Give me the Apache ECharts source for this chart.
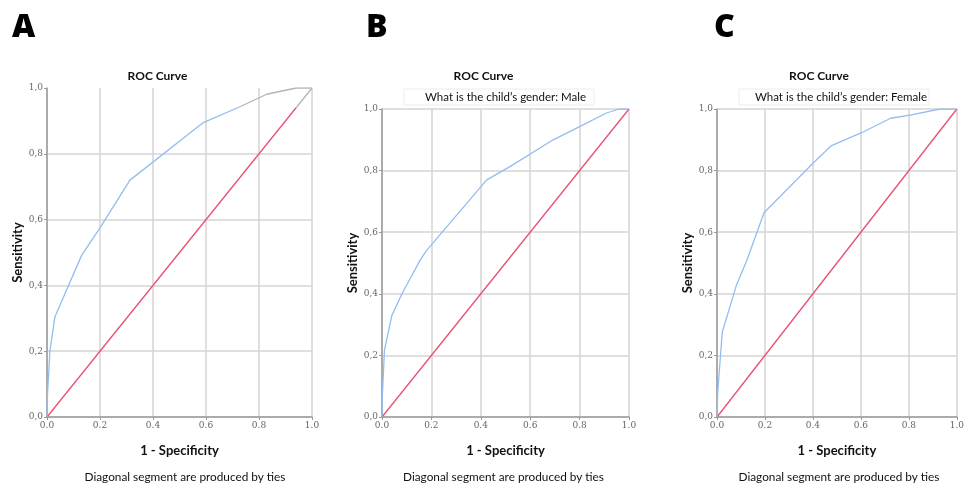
<!DOCTYPE html>
<html>
<head>
<meta charset="utf-8">
<script src="https://cdn.jsdelivr.net/npm/echarts@6/dist/echarts.min.js"></script>
<style>
	html, body { margin: 0; padding: 0; background: #fff; }
	#chart { width: 967px; height: 485px; }
</style>
</head>
<body>
<div id="chart"></div>
<script>
// values (x = 1 - specificity, y = sensitivity)
const fprA = [0, 0.002, 0.011, 0.03, 0.131, 0.2, 0.313, 0.59, 0.728];
const tprA = [0, 0.07, 0.2, 0.305, 0.492, 0.575, 0.72, 0.895, 0.943];
const tailFprA = [0.728, 0.829, 0.94, 1];
const tailTprA = [0.943, 0.981, 1, 1];

const fprB = [0, 0.002, 0.01, 0.04, 0.081, 0.155, 0.18, 0.424, 0.518, 0.693, 0.8, 0.909, 0.96, 1];
const tprB = [0, 0.08, 0.217, 0.33, 0.4, 0.51, 0.54, 0.77, 0.813, 0.9, 0.943, 0.987, 1, 1];

const fprC = [0, 0.003, 0.022, 0.081, 0.125, 0.196, 0.4, 0.475, 0.603, 0.724, 0.805, 0.93, 1];
const tprC = [0, 0.08, 0.276, 0.428, 0.51, 0.663, 0.824, 0.88, 0.923, 0.97, 0.98, 1, 1];

const diagonal = [0, 1];
const diagonalA = [0, 0.94];
const diagonalTailA = [0.94, 1];

const xTicks = ['0.0', '0.2', '0.4', '0.6', '0.8', '1.0'];
const yTicks = ['0,0', '0,2', '0,4', '0,6', '0,8', '1,0'];

const panels = [
	{ letter: 'A', subtitle: null, left: 47, top: 88, width: 265, height: 329 },
	{ letter: 'B', subtitle: 'What is the child\u2019s gender: Male', left: 382, top: 109, width: 247, height: 308 },
	{ letter: 'C', subtitle: 'What is the child\u2019s gender: Female', left: 717, top: 109, width: 248, height: 308 }
];

const BLUE = '#93bdf0';
const RED = '#ea4f70';
const GREY = '#b4b4b4';
const FONT = 'Lato, "Open Sans", sans-serif';

function pairs(xs, ys) {
	return xs.map((x, i) => [x, ys[i]]);
}

function line(idx, data, color, z) {
	return {
		type: 'line',
		xAxisIndex: idx,
		yAxisIndex: idx,
		data: data,
		showSymbol: false,
		symbol: 'none',
		silent: true,
		z: z || 2,
		lineStyle: { color: color, width: 1.3 }
	};
}

const grids = panels.map(p => ({ left: p.left, top: p.top, width: p.width, height: p.height }));

const xAxes = panels.map((p, i) => ({
	type: 'value',
	gridIndex: i,
	min: 0,
	max: 1,
	interval: 0.2,
	name: '1 - Specificity',
	nameLocation: 'middle',
	nameGap: 27,
	nameTextStyle: { fontFamily: FONT, fontWeight: 'bold', fontSize: 13, color: '#111' },
	axisLine: { lineStyle: { color: '#9a9a9a', width: 1.5 } },
	axisTick: { show: true, length: 3, lineStyle: { color: '#9a9a9a' } },
	axisLabel: {
		fontFamily: '"DejaVu Serif", serif',
		fontSize: 9,
		color: '#666',
		margin: 4,
		formatter: v => xTicks[Math.round(v * 5)]
	},
	splitLine: { show: true, lineStyle: { color: '#d4d4d4', width: 1.5 } }
}));

const yAxes = panels.map((p, i) => ({
	type: 'value',
	gridIndex: i,
	min: 0,
	max: 1,
	interval: 0.2,
	name: 'Sensitivity',
	nameLocation: 'middle',
	nameGap: 23,
	nameTextStyle: { fontFamily: FONT, fontWeight: 'bold', fontSize: 13, color: '#111' },
	axisLine: { show: true, lineStyle: { color: '#9a9a9a', width: 1.5 } },
	axisTick: { show: true, length: 3, lineStyle: { color: '#9a9a9a' } },
	axisLabel: {
		fontFamily: '"DejaVu Serif", serif',
		fontSize: 9,
		color: '#666',
		margin: 4,
		formatter: v => yTicks[Math.round(v * 5)]
	},
	splitLine: { show: true, showMaxLine: i !== 0, lineStyle: { color: '#d4d4d4', width: 1.5 } }
}));

const series = [
	line(0, pairs(fprA, tprA), BLUE, 3),
	line(0, pairs(tailFprA, tailTprA), GREY, 3),
	line(0, pairs(diagonalA, diagonalA), RED, 2),
	line(0, pairs(diagonalTailA, diagonalTailA), GREY, 2),
	line(1, pairs(fprB, tprB), BLUE, 3),
	line(1, pairs(diagonal, diagonal), RED, 2),
	line(2, pairs(fprC, tprC), BLUE, 3),
	line(2, pairs(diagonal, diagonal), RED, 2)
];

const graphics = [];
const letterX = [12, 366, 714];
panels.forEach((p, i) => {
	const cx = p.left + p.width / 2;
	graphics.push({
		type: 'text', left: letterX[i], top: 12,
		style: { text: p.letter, font: '900 32px "Open Sans", sans-serif', fill: '#000' }
	});
	graphics.push({
		type: 'text', x: cx - 22, y: 76,
		style: { text: 'ROC Curve', font: 'bold 12px ' + FONT, fill: '#111', textAlign: 'center', textVerticalAlign: 'middle' }
	});
	if (p.subtitle) {
		graphics.push({
			type: 'rect', shape: { x: p.left + 22, y: 89, width: 190, height: 16 },
			style: { fill: '#fff', stroke: '#ececec', lineWidth: 1 }, z: 10
		});
		graphics.push({
			type: 'text', x: cx, y: 97, z: 11,
			style: { text: p.subtitle, font: '11.5px ' + FONT, fill: '#111', textAlign: 'center', textVerticalAlign: 'middle' }
		});
	}
	graphics.push({
		type: 'text', x: i === 0 ? 185 : cx - 2, y: 477,
		style: { text: 'Diagonal segment are produced by ties', font: '11.8px ' + FONT, fill: '#111', textAlign: 'center', textVerticalAlign: 'middle' }
	});
});

const chart = echarts.init(document.getElementById('chart'));
chart.setOption({
	animation: false,
	backgroundColor: '#fff',
	grid: grids,
	xAxis: xAxes,
	yAxis: yAxes,
	series: series,
	graphic: graphics
});
</script>
</body>
</html>
